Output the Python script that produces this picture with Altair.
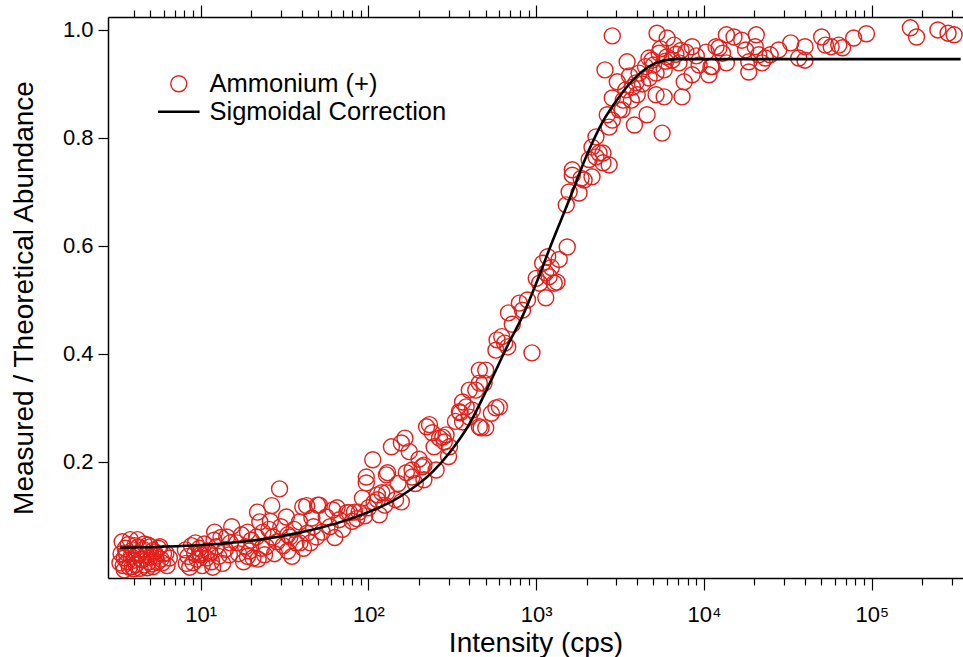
import altair as alt
import pandas as pd

FONT = "Liberation Sans"

# ---- measured points (Ammonium (+)) : intensity (cps), measured/theoretical ----
amm_x = [
    3.3, 3.35, 3.4, 3.45, 3.5, 3.55, 3.6, 3.65, 3.7, 3.75, 3.8, 3.85, 3.9, 3.95, 4.0, 4.05,
    4.1, 4.15, 4.2, 4.25, 4.3, 4.35, 4.4, 4.5, 4.55, 4.6, 4.7, 4.8, 4.85, 4.9, 5.0, 5.05,
    5.1, 5.2, 5.3, 5.4, 5.5, 5.6, 5.7, 5.8, 5.9, 6.0, 6.2, 6.3, 6.5, 3.5, 4.0, 4.6, 5.2,
    8.1, 8.2, 8.4, 8.6, 8.8, 9.0, 9.2, 9.5, 9.8, 9.9, 10.2, 10.5, 10.8, 11.0, 11.3, 11.6,
    12.0, 12.1, 12.4, 12.8, 13.2, 13.5, 14.0, 14.3, 14.8, 15.3, 15.0, 10.0, 9.3, 11.8,
    16.4, 16.8, 17.5, 18.0, 18.5, 19.0, 19.5, 20.0, 20.5, 21.5, 21.8, 22.5, 23.0, 23.5,
    24.0, 24.6, 25.5, 26.5, 27.0, 27.5, 28.5, 29.5, 30.0, 31.0, 32.4, 33.0, 34.0, 35.0,
    36.0, 37.0, 38.8, 39.0, 40.6, 41.0, 42.8, 43.0, 45.0, 46.0, 47.0, 49.0, 49.7, 26.0,
    19.0, 33.0, 22.0,
    51, 53, 56, 59, 61.3, 63, 65, 67, 70, 74.3, 77, 80, 82.5, 85, 88, 92, 95, 97, 97, 100,
    106, 108, 113, 113, 116, 120, 125, 128, 128, 130,
    137, 145, 150, 157, 157, 165, 168, 175, 182, 182, 190, 200, 209, 214, 214, 222, 231,
    240, 246, 253, 265, 277, 283, 290, 304, 300,
    330, 348, 352, 364, 364, 382, 399, 399, 416, 436, 458, 458, 458, 469, 489, 500, 500,
    540, 575, 575, 584, 603, 623, 648, 676, 683, 720, 793, 828, 887, 943,
    1000, 1047, 1092, 1140, 1140, 1170, 1194, 1230, 1280, 1330, 1370, 1530, 1510, 1571,
    1640, 1640, 1800, 1850, 1930, 2066, 2150, 2150, 2270, 2270, 2370, 2500, 2500, 2650,
    2720, 2720, 2840,
    2840, 2840, 2570, 3040, 3120, 3250, 3420, 3480, 3690, 3750, 3850, 3930, 4100, 4480,
    4580, 4710, 4900, 5180, 5180, 5250, 5400, 5630, 5790, 5790, 6030, 6450, 6640, 7100,
    7400, 7620, 7800, 8500, 8500, 9350, 4300, 4000, 3300, 5000, 6000, 6800, 5500, 7300,
    9000, 4700, 5900, 3600,
    10300, 10700, 11000, 11200, 11800, 12300, 12900, 13600, 13600, 15100, 16800, 17700,
    18500, 18500, 20200, 20500, 21200, 22200, 23200, 24800, 27900, 32900, 36700, 40000,
    40000, 50300, 53000, 57300, 63600, 67000, 78000, 93000,
    170000, 185000, 248000, 285000, 310000,
]
amm_y = [
    0.013, 0.030, 0.052, 0.008, 0.022, 0.040, 0.031, 0.015, 0.047, 0.005, 0.056, 0.025,
    0.006, 0.037, 0.018, 0.045, 0.010, 0.028, 0.056, 0.043, 0.031, 0.003, 0.020, 0.019,
    0.038, 0.009, 0.027, 0.004, 0.046, 0.015, 0.043, 0.024, 0.011, 0.006, 0.033, 0.025,
    0.014, 0.040, 0.043, 0.020, 0.013, 0.030, 0.031, 0.008, 0.022, 0.000, 0.002, 0.048,
    0.036,
    0.037, 0.012, 0.025, 0.005, 0.045, 0.013, 0.030, 0.020, 0.040, 0.031, 0.008, 0.048,
    0.022, 0.035, 0.031, 0.015, 0.055, 0.070, 0.043, 0.025, 0.060, 0.012, 0.038, 0.061,
    0.028, 0.080, 0.050, 0.028, 0.050, 0.005,
    0.050, 0.030, 0.065, 0.015, 0.043, 0.070, 0.035, 0.055, 0.022, 0.061, 0.107, 0.089,
    0.040, 0.070, 0.028, 0.043, 0.075, 0.119, 0.061, 0.030, 0.052, 0.150, 0.080, 0.045,
    0.098, 0.065, 0.061, 0.025, 0.075, 0.050, 0.089, 0.050, 0.117, 0.040, 0.119, 0.068,
    0.050, 0.096, 0.080, 0.061, 0.120, 0.090, 0.025, 0.035, 0.020,
    0.120, 0.070, 0.098, 0.080, 0.111, 0.060, 0.115, 0.093, 0.075, 0.106, 0.106, 0.090,
    0.107, 0.095, 0.107, 0.133, 0.100, 0.172, 0.161, 0.115, 0.204, 0.125, 0.139, 0.130,
    0.102, 0.143, 0.120, 0.176, 0.143, 0.180,
    0.228, 0.130, 0.160, 0.235, 0.126, 0.244, 0.180, 0.219, 0.172, 0.185, 0.160, 0.205,
    0.191, 0.194, 0.167, 0.265, 0.269, 0.254, 0.228, 0.185, 0.244, 0.246, 0.237, 0.250,
    0.228, 0.210,
    0.275, 0.293, 0.291, 0.274, 0.311, 0.302, 0.283, 0.333, 0.296, 0.333, 0.346, 0.370,
    0.265, 0.263, 0.346, 0.370, 0.263, 0.290, 0.300, 0.407, 0.426, 0.302, 0.432, 0.420,
    0.413, 0.476, 0.455, 0.494, 0.481, 0.500, 0.402,
    0.540, 0.531, 0.568, 0.550, 0.504, 0.580, 0.543, 0.560, 0.531, 0.533, 0.575, 0.598,
    0.676, 0.700, 0.731, 0.741, 0.698, 0.725, 0.722, 0.760, 0.728, 0.783, 0.765, 0.802,
    0.772, 0.772, 0.754, 0.843, 0.750, 0.820, 0.833,
    0.989, 0.874, 0.926, 0.904, 0.852, 0.852, 0.889, 0.941, 0.870, 0.894, 0.824, 0.902,
    0.920, 0.932, 0.843, 0.911, 0.944, 0.880, 0.920, 0.994, 0.957, 0.809, 0.876, 0.926,
    0.985, 0.944, 0.972, 0.939, 0.876, 0.904, 0.959, 0.917, 0.969, 0.935, 0.900, 0.880,
    0.870, 0.935, 0.950, 0.955, 0.965, 0.962, 0.952, 0.948, 0.942, 0.915,
    0.959, 0.917, 0.932, 0.932, 0.969, 0.967, 0.957, 0.991, 0.939, 0.987, 0.981, 0.963,
    0.941, 0.922, 0.969, 0.991, 0.954, 0.939, 0.948, 0.954, 0.963, 0.976, 0.948, 0.969,
    0.944, 0.987, 0.972, 0.969, 0.972, 0.967, 0.985, 0.993,
    1.004, 0.987, 1.000, 0.994, 0.991,
]

# ---- sigmoidal correction curve ----
fit_x = [3.3, 10, 20, 38.8, 77, 153, 240, 304, 399, 540, 691, 826, 1000, 1194, 1571,
         2066, 2470, 3120, 3935, 5180, 6810, 10000, 100000, 339000]
fit_y = [0.041, 0.046, 0.054, 0.069, 0.094, 0.135, 0.181, 0.217, 0.270, 0.352, 0.422,
         0.469, 0.531, 0.593, 0.685, 0.778, 0.828, 0.876, 0.913, 0.939, 0.946, 0.946,
         0.946, 0.946]

series_names = ["Ammonium (+)", "Sigmoidal Correction"]

# ---- axis ticks ----
x_ticks = [4, 5, 6, 7, 8, 9,
           10, 20, 30, 40, 50, 60, 70, 80, 90,
           100, 200, 300, 400, 500, 600, 700, 800, 900,
           1000, 2000, 3000, 4000, 5000, 6000, 7000, 8000, 9000,
           10000, 20000, 30000, 40000, 50000, 60000, 70000, 80000, 90000,
           100000, 200000, 300000]
major_ticks = [10, 100, 1000, 10000, 100000]
major_labels = ["10¹", "10²", "10³", "10⁴", "10⁵"]
y_ticks = [0.2, 0.4, 0.6, 0.8, 1.0]

label_expr = " : ".join(
    f"datum.value === {v} ? '{t}'" for v, t in zip(major_ticks, major_labels)
) + " : ''"
major_test = "indexof([" + ",".join(str(v) for v in major_ticks) + "], datum.value) >= 0"

df_pts = pd.DataFrame({"intensity": amm_x, "ratio": amm_y})
df_pts["series"] = series_names[0]
df_fit = pd.DataFrame({"intensity": fit_x, "ratio": fit_y})

x_scale = alt.Scale(type="log", domain=[2.8, 3.5e5], nice=False)
y_scale = alt.Scale(domain=[-0.015, 1.024], nice=False, zero=False)

bottom_axis = alt.Axis(
    values=x_ticks, labelExpr=label_expr, grid=False,
    tickSize={"condition": {"test": major_test, "value": 12}, "value": 7},
    tickColor="black", tickWidth=1.2, domainColor="black", domainWidth=1.5,
    labelFont=FONT, labelFontSize=22, labelColor="black", labelPadding=14,
    labelFlush=False, labelOverlap=False,
    title="Intensity (cps)", titleFont=FONT, titleFontSize=28, titleFontWeight="normal",
    titleColor="black", titlePadding=4,
)
top_axis = alt.Axis(
    orient="top", values=x_ticks, labels=False, grid=False, title="",
    tickSize={"condition": {"test": major_test, "value": 12}, "value": 7},
    tickColor="black", tickWidth=1.2, domainColor="black", domainWidth=1.5,
)
y_axis = alt.Axis(
    values=y_ticks, format=".1f", grid=False, tickSize=10, tickColor="black",
    tickWidth=1.2, domainColor="black", domainWidth=1.5,
    labelFont=FONT, labelFontSize=22, labelColor="black", labelPadding=5,
    title="Measured / Theoretical Abundance", titleFont=FONT, titleFontSize=28,
    titleFontWeight="normal", titleColor="black", titlePadding=24,
)

legend = alt.Legend(
    title=None, orient="none", legendX=58, legendY=54, labelFont=FONT,
    labelFontSize=25.5, labelColor="black", labelOffset=18, rowPadding=1,
    symbolSize=256, padding=0, labelLimit=0,
)

points = alt.Chart(df_pts).mark_point(filled=False, size=256, opacity=1).encode(
    x=alt.X("intensity:Q", scale=x_scale, axis=bottom_axis),
    y=alt.Y("ratio:Q", scale=y_scale, axis=y_axis),
    color=alt.Color("series:N", scale=alt.Scale(domain=series_names,
                                                 range=["#e3201b", "black"]), legend=legend),
    shape=alt.Shape("series:N", scale=alt.Scale(domain=series_names,
                                                 range=["circle", "M-2.6,0H2.6"]), legend=legend),
    strokeWidth=alt.StrokeWidth("series:N", scale=alt.Scale(domain=series_names,
                                                             range=[1.4, 2.6]), legend=legend),
)

fit = alt.Chart(df_fit).mark_line(color="black", strokeWidth=2.6, interpolate="monotone").encode(
    x=alt.X("intensity:Q", scale=x_scale, axis=top_axis),
    y=alt.Y("ratio:Q", scale=y_scale, axis=y_axis),
)

chart = alt.layer(points, fit).resolve_axis(x="independent").properties(
    width=855, height=561,
    padding={"left": 108, "top": 17, "right": 0, "bottom": 79},
    autosize=alt.AutoSizeParams(type="none"),
).configure_view(strokeWidth=0).configure(background="white")

chart.save("out.html", embed_options={"renderer": "svg", "actions": False})
